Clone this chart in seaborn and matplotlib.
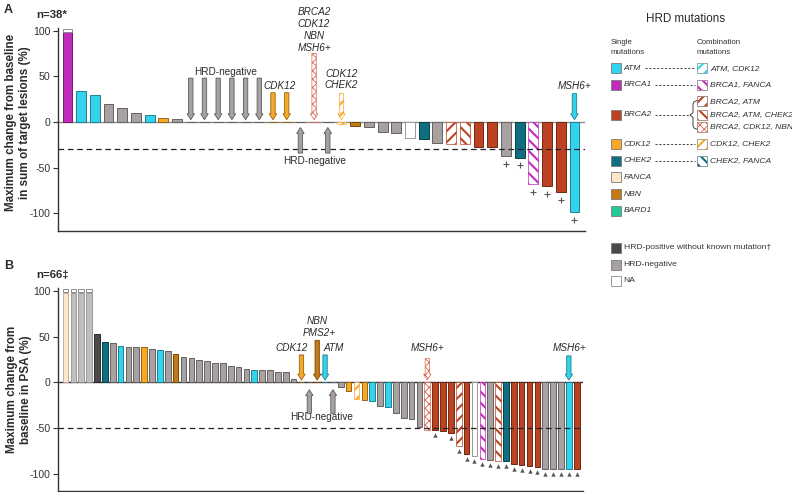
import numpy as np
import pandas as pd
import matplotlib
matplotlib.use("Agg")
import matplotlib.pyplot as plt
import matplotlib.colors as mcolors
from matplotlib.patches import Rectangle
from matplotlib.lines import Line2D
import seaborn as sns

# ------------------------------------------------------------------ data
tumour_values = [98, 34, 29.5, 20, 15, 9.5, 7.3, 4.5, 3,
                 0, 0, 0, 0, 0, 0, 0, 0, 0, 0, 0,
                 -2.5, -4, -6, -11, -12.5, -18, -19, -23, -24, -24.5,
                 -27, -27, -37, -39, -68, -70, -77, -98.7]
tumour_groups = ["BRCA1", "ATM", "ATM", "HRD-negative", "HRD-negative",
                 "HRD-negative", "ATM", "CDK12", "HRD-negative",
                 "HRD-negative", "HRD-negative", "HRD-negative", "HRD-negative",
                 "HRD-negative", "HRD-negative", "CDK12", "CDK12",
                 "HRD-negative", "BRCA2, CDK12, NBN", "HRD-negative",
                 "CDK12, CHEK2", "NBN", "HRD-negative", "HRD-negative",
                 "HRD-negative", "NA", "CHEK2", "HRD-negative",
                 "BRCA2, ATM", "BRCA2, ATM, CHEK2", "BRCA2", "BRCA2",
                 "HRD-negative", "CHEK2", "BRCA1, FANCA", "BRCA2", "BRCA2", "ATM"]
tumour_capped = [0]
tumour_plus = [32, 33, 34, 35, 36, 37]
tumour_arrow_idx = [9, 10, 11, 12, 13, 14, 15, 16, 17, 18, 19, 20, 37]
tumour_arrow_up = [17, 19]

psa_values = [98, 98, 98, 98, 52.4, 44.4, 43, 39.3, 38.5, 38.5, 38.5, 36.4,
              35, 34.2, 31, 27.6, 26.2, 24.4, 23.6, 21, 20.7, 17.8, 16.7,
              14.2, 13.1, 13.1, 13.1, 11.3, 11.3, 3.6,
              0, 0, 0, 0, 0,
              -4.7, -10, -18.5, -19.3, -21, -25.8, -27.3, -33.8, -39.6, -40.4,
              -49, -52, -52, -53.8, -55, -69.5, -78, -81, -84, -85.5, -86.5,
              -86.5, -89, -91, -92, -93, -95, -95, -95, -95, -95]
psa_groups = (["FANCA", "HRD-negative", "HRD-negative", "HRD-negative",
               "HRD-positive", "CHEK2", "HRD-negative", "ATM", "HRD-negative",
               "HRD-negative", "CDK12", "HRD-negative", "ATM", "HRD-negative",
               "NBN"] + ["HRD-negative"] * 9 +
              ["ATM", "HRD-negative", "HRD-negative", "HRD-negative",
               "HRD-negative", "HRD-negative",
               "CDK12", "HRD-negative", "NBN", "ATM", "HRD-negative",
               "HRD-negative", "CDK12", "CDK12, CHEK2", "CDK12", "ATM",
               "HRD-negative", "ATM", "HRD-negative", "HRD-negative",
               "HRD-negative", "HRD-negative", "BRCA2, CDK12, NBN", "BRCA2",
               "BRCA2", "BRCA2", "BRCA2, ATM", "BRCA2", "NA", "BRCA1, FANCA",
               "HRD-negative", "BRCA2, ATM, CHEK2", "CHEK2", "BRCA2", "BRCA2",
               "BRCA2", "BRCA2", "HRD-negative", "HRD-negative", "HRD-negative",
               "ATM", "BRCA2"])
psa_capped = [0, 1, 2, 3]
psa_triangle = [47] + list(range(49, 66))
psa_arrow_idx = [30, 31, 32, 33, 34, 46, 64]
psa_arrow_up = [31, 34]

single_labels = ["ATM", "BRCA1", "BRCA2", "CDK12", "CHEK2", "FANCA", "NBN", "BARD1"]
combo_labels = ["ATM, CDK12", "BRCA1, FANCA", "BRCA2, ATM", "BRCA2, ATM, CHEK2",
                "BRCA2, CDK12, NBN", "CDK12, CHEK2", "CHEK2, FANCA"]
other_labels = ["HRD-positive without known mutation\u2020", "HRD-negative", "NA"]

# ------------------------------------------------------------------ styles
COL = {"ATM": "#33d3ee", "BRCA1": "#c12bb9", "BRCA2": "#bb4322",
       "CDK12": "#f7a826", "CHEK2": "#0f6e80", "FANCA": "#fce8c9",
       "NBN": "#c47a12", "BARD1": "#25c998", "HRD-positive": "#4d4849",
       "HRD-negative": "#a8a1a1", "NA": "#ffffff"}
COMBO = {"ATM, CDK12": ("ATM", "///"), "BRCA1, FANCA": ("BRCA1", "\\\\\\"),
         "BRCA2, ATM": ("BRCA2", "///"), "BRCA2, ATM, CHEK2": ("BRCA2", "\\\\\\"),
         "BRCA2, CDK12, NBN": ("BRCA2", "xxxx"),
         "CDK12, CHEK2": ("CDK12", "///"), "CHEK2, FANCA": ("CHEK2", "\\\\\\")}
DOTTED = "BRCA2, CDK12, NBN"

sns.set_style("white")
plt.rcParams["font.family"] = ["Liberation Sans", "DejaVu Sans"]
plt.rcParams["axes.unicode_minus"] = False
plt.rcParams["hatch.linewidth"] = 1.5
TXT = "#2b2b2b"


def edge_of(c, f=0.6):
    rgb = np.array(mcolors.to_rgb(c))
    return tuple(rgb * f)


def style_for(group, light=False):
    """returns facecolor, edgecolor, hatch"""
    if group in COMBO:
        base, hatch = COMBO[group]
        if group == DOTTED:
            return "white", "#d9604a", hatch
        return "white", COL[base], hatch
    if group == "NA":
        return "white", "#9a9a9a", None
    c = COL[group]
    if light and group == "HRD-negative":
        return "#c0bebe", "#9c9a9a", None
    if group == "FANCA":
        return c, "#bdb3a3", None
    return c, edge_of(c), None


def apply_hatch(p, group, hatch):
    p.set_hatch(hatch)
    p.set_linewidth(0.5)
    if group == DOTTED:
        try:
            p.set_hatch_linewidth(0.6)
        except Exception:
            pass


def draw_panel(ax, values, groups, capped, ref, zero_col):
    n = len(values)
    df = pd.DataFrame({"idx": np.arange(n), "value": values,
                       "key": [f"p{i}" for i in range(n)], "group": groups})
    pal = {f"p{i}": style_for(g, i in capped)[0] for i, g in enumerate(groups)}
    sns.barplot(data=df, x="idx", y="value", hue="key", palette=pal,
                legend=False, width=0.72, errorbar=None, ax=ax,
                saturation=1, zorder=2)
    bars = sorted(ax.patches, key=lambda p: p.get_x())
    for i, p in enumerate(bars):
        fc, ec, hatch = style_for(groups[i], i in capped)
        p.set_facecolor(fc)
        p.set_edgecolor(ec)
        p.set_linewidth(0.7)
        if hatch:
            apply_hatch(p, groups[i], hatch)
    for i in capped:
        ax.bar(i, 3.6, bottom=98.6, width=0.72, color="white",
               edgecolor="#8c8c8c", linewidth=0.7, zorder=3, clip_on=False)
    ax.axhline(0, color=zero_col, lw=1.0, zorder=1)
    ax.axhline(ref, color="#222222", lw=0.9, ls=(0, (4.5, 3)), zorder=4)
    ax.set_xlabel("")
    ax.set_xticks([])
    ax.set_yticks([-100, -50, 0, 50, 100])
    ax.tick_params(axis="y", labelsize=7.6, length=3.5, width=0.8,
                   colors="#333333", pad=2, left=True)
    for s in ["top", "right"]:
        ax.spines[s].set_visible(False)
    for s in ["left", "bottom"]:
        ax.spines[s].set_color("#333333")
        ax.spines[s].set_linewidth(1.0)
    return df


def draw_arrow(ax, x, y0, y1, group, w, hw, hl):
    fc, ec, hatch = style_for(group)
    if group == "HRD-negative":
        ec = "#5f5a5a"
    arr = ax.arrow(x, y0, 0, y1 - y0, width=w, head_width=hw, head_length=hl,
                   length_includes_head=True, facecolor=fc, edgecolor=ec,
                   linewidth=0.6, zorder=5, clip_on=False)
    if hatch:
        apply_hatch(arr, group, hatch)


fig = plt.figure(figsize=(7.92, 4.92), dpi=100)
W, H = 792.0, 492.0


def add_axes_px(x0, x1, ytop, ybot):
    return fig.add_axes([x0 / W, 1 - ybot / H, (x1 - x0) / W, (ybot - ytop) / H])


# ---------------------------------------------------------------- panel A
axA = add_axes_px(58, 585, 27.8, 231.3)
draw_panel(axA, tumour_values, tumour_groups, tumour_capped, -30, "#8a8a8a")
axA.set_xlim(-0.69, 37.77)
axA.set_ylim(-119.5, 103)
axA.set_ylabel("Maximum change from baseline\nin sum of target lesions (%)",
               fontsize=8.4, fontweight="bold", color=TXT)
axA.yaxis.set_label_coords(-0.051, 0.535)

startA = {9: 48, 10: 48, 11: 48, 12: 48, 13: 48, 14: 48, 15: 32, 16: 32,
          18: 75, 20: 31, 37: 31}
for i in tumour_arrow_idx:
    if i in tumour_arrow_up:
        draw_arrow(axA, i, -34, -6, tumour_groups[i], 0.32, 0.55, 6.5)
    else:
        draw_arrow(axA, i, startA[i], 2.5, tumour_groups[i], 0.32, 0.55, 6.5)

kwA = dict(ha="center", va="center", fontsize=7.2, color=TXT)
axA.text(11.53, 55, "HRD-negative", **kwA)
axA.text(15.5, 39, "CDK12", style="italic", **kwA)
for t, yv in zip(["BRCA2", "CDK12", "NBN", "MSH6+"], [120, 107, 94, 81]):
    axA.text(18.0, yv, t, style="italic", clip_on=False, **kwA)
axA.text(20.0, 53, "CDK12", style="italic", **kwA)
axA.text(20.0, 40, "CHEK2", style="italic", **kwA)
axA.text(37.0, 39, "MSH6+", style="italic", **kwA)
axA.text(18.0, -43, "HRD-negative", **kwA)
tv = np.array(tumour_values)
axA.scatter(tumour_plus, tv[tumour_plus] - 8.5, marker="+", s=22,
            linewidths=0.8, color="#555555", zorder=5, clip_on=False)

# ---------------------------------------------------------------- panel B
axB = add_axes_px(58, 583, 288.3, 490.5)
draw_panel(axB, psa_values, psa_groups, psa_capped, -50, "#333333")
axB.set_xlim(-0.96, 65.8)
axB.set_ylim(-118.5, 103)
axB.set_ylabel("Maximum change from\nbaseline in PSA (%)",
               fontsize=8.4, fontweight="bold", color=TXT)
axB.yaxis.set_label_coords(-0.049, 0.5)

startB = {30: 30, 32: 46, 33: 30, 46: 26, 64: 29}
for i in psa_arrow_idx:
    if i in psa_arrow_up:
        draw_arrow(axB, i, -34, -8, psa_groups[i], 0.55, 0.95, 6.5)
    else:
        draw_arrow(axB, i, startB[i], 2.5, psa_groups[i], 0.55, 0.95, 6.5)

axB.text(28.7, 37.5, "CDK12", style="italic", **kwA)
axB.text(32.0, 67, "NBN", style="italic", **kwA)
axB.text(32.2, 54, "PMS2+", style="italic", **kwA)
axB.text(34.1, 37.5, "ATM", style="italic", **kwA)
axB.text(32.5, -38, "HRD-negative", **kwA)
axB.text(46.0, 37.5, "MSH6+", style="italic", **kwA)
axB.text(64.1, 37.5, "MSH6+", style="italic", **kwA)
pv = np.array(psa_values)
axB.scatter(psa_triangle, pv[psa_triangle] - 5.5, marker="^", s=10,
            linewidths=0, color="#555555", zorder=5, clip_on=False)

# ---------------------------------------------------------------- overlay
ov = fig.add_axes([0, 0, 1, 1])
ov.set_xlim(0, W)
ov.set_ylim(H, 0)
ov.axis("off")
ov.patch.set_visible(False)

ov.text(4, 10, "A", fontsize=9, fontweight="bold", color=TXT, va="center")
ov.text(36, 15, "n=38*", fontsize=8.2, fontweight="bold", color=TXT, va="center")
ov.text(4, 266, "B", fontsize=9, fontweight="bold", color=TXT, va="center")
ov.text(36, 275, "n=66\u2021", fontsize=8.2, fontweight="bold", color=TXT, va="center")

ov.text(686, 18.5, "HRD mutations", fontsize=8.4, color=TXT, ha="center", va="center")
small = dict(fontsize=5.7, color="#333333", va="center")
ov.text(610.7, 42.7, "Single", **small)
ov.text(610.7, 52.3, "mutations", **small)
ov.text(696.7, 42.7, "Combination", **small)
ov.text(696.7, 52.3, "mutations", **small)


def swatch(x, y, group):
    fc, ec, hatch = style_for(group)
    if group in COMBO:
        r = Rectangle((x, y - 5), 10, 10, facecolor=fc, edgecolor=ec,
                      linewidth=0.5)
        apply_hatch(r, group, hatch)
        ov.add_patch(r)
        ov.add_patch(Rectangle((x, y - 5), 10, 10, fill=False,
                               edgecolor="#9a9a9a", linewidth=0.5))
    else:
        ov.add_patch(Rectangle((x, y - 5), 10, 10, facecolor=fc,
                               edgecolor="#7a7a7a" if group != "NA" else "#8a8a8a",
                               linewidth=0.6))


lab = dict(fontsize=6.1, color="#333333", va="center", style="italic")
single_y = [68.3, 85, 115, 144, 160.7, 177.3, 194, 210.7]
for g, yv in zip(single_labels, single_y):
    swatch(610.7, yv, g)
    ov.text(623.5, yv, g, **lab)
combo_y = [68.3, 85, 101.3, 114.7, 126.5, 144, 160.7]
for g, yv in zip(combo_labels, combo_y):
    swatch(697.3, yv, g)
    ov.text(710.2, yv, g, **lab)
dash = dict(color="#444444", lw=0.7, ls=(0, (2.2, 1.8)))
for x0, x1, yv in [(645, 695, 68.3), (655, 695, 85), (655, 689, 115),
                   (655, 695, 144), (655, 695, 160.7)]:
    ov.add_line(Line2D([x0, x1], [yv, yv], **dash))
brace_x = [697, 694.2, 693, 693, 690, 693, 693, 694.2, 697]
brace_y = [100.5, 101.6, 104, 112.5, 115, 117.5, 125.8, 128.2, 129.2]
ov.add_line(Line2D(brace_x, brace_y, color="#444444", lw=0.7))

other_y = [247.7, 264.7, 281]
for g, yv, t in zip(["HRD-positive", "HRD-negative", "NA"], other_y, other_labels):
    swatch(610.7, yv, g)
    ov.text(623.5, yv, t, fontsize=6.1, color="#333333", va="center")

fig.savefig("out.png", dpi=100)
